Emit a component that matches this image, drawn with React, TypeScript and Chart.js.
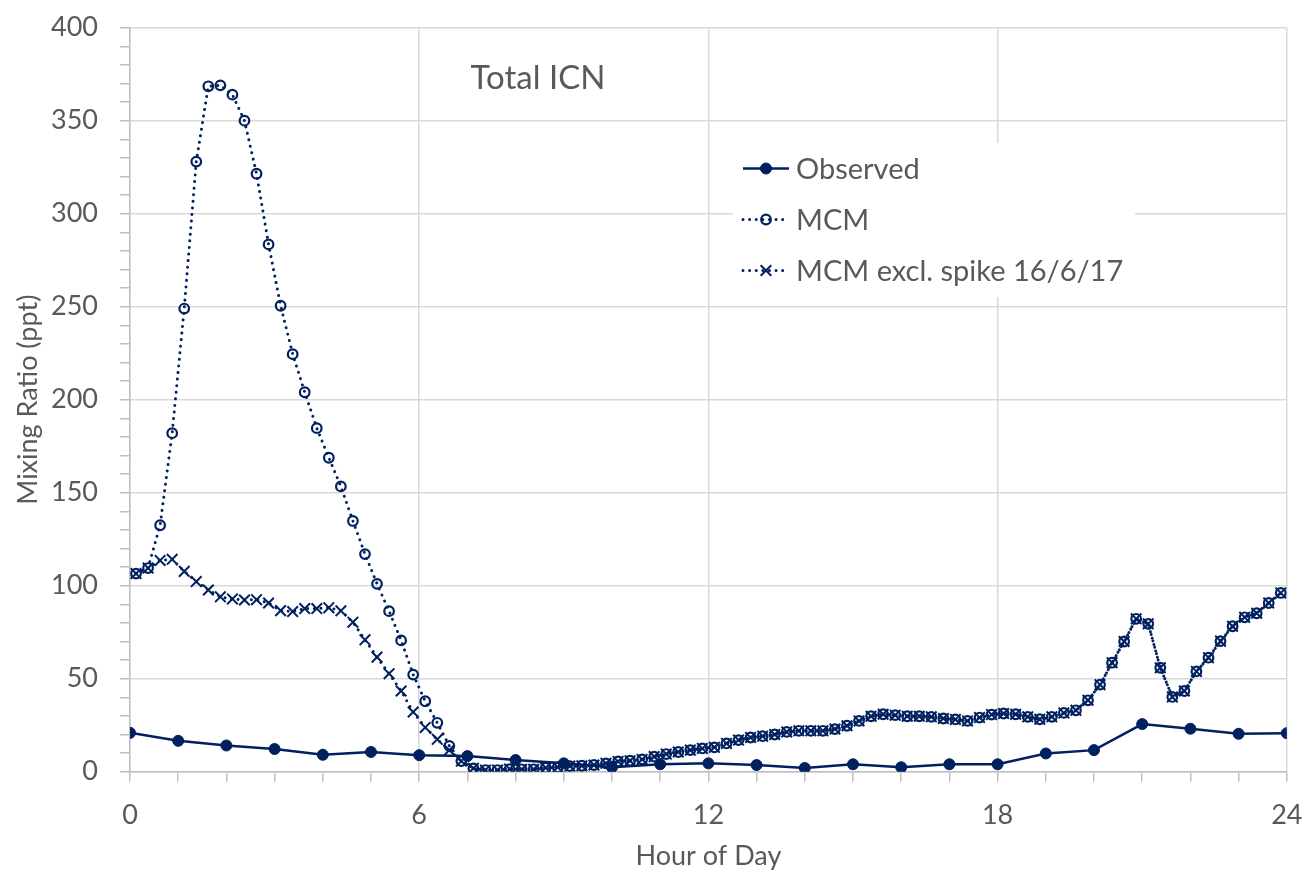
import React, { useEffect, useRef } from 'react';
import { Chart, registerables } from 'chart.js';

Chart.register(...registerables);

// ---------------- data ----------------
const chartTitle = 'Total ICN';
const xAxisTitle = 'Hour of Day';
const yAxisTitle = 'Mixing Ratio (ppt)';
const seriesNames = ['Observed', 'MCM', 'MCM excl. spike 16/6/17'];

const xLabelHours = [0, 6, 12, 18, 24];
const yLabelValues = [0, 50, 100, 150, 200, 250, 300, 350, 400];

const observedHours = [0, 1, 2, 3, 4, 5, 6, 7, 8, 9, 10, 11, 12, 13, 14, 15, 16, 17, 18, 19, 20, 21, 22, 23, 24];
const observedValues = [20.9, 16.6, 14.1, 12.2, 9.1, 10.6, 8.9, 8.4, 6.3, 4.5, 2.4, 4.0, 4.5, 3.6, 2.0, 4.0, 2.4, 4.0, 4.0, 9.8, 11.6, 25.6, 23.1, 20.4, 20.7];

const mcmHours = [
  0.125, 0.375, 0.625, 0.875, 1.125, 1.375, 1.625, 1.875, 2.125, 2.375, 2.625, 2.875,
  3.125, 3.375, 3.625, 3.875, 4.125, 4.375, 4.625, 4.875, 5.125, 5.375, 5.625, 5.875,
  6.125, 6.375, 6.625, 6.875, 7.125, 7.375, 7.625, 7.875, 8.125, 8.375, 8.625, 8.875,
  9.125, 9.375, 9.625, 9.875, 10.125, 10.375, 10.625, 10.875, 11.125, 11.375, 11.625, 11.875,
  12.125, 12.375, 12.625, 12.875, 13.125, 13.375, 13.625, 13.875, 14.125, 14.375, 14.625, 14.875,
  15.125, 15.375, 15.625, 15.875, 16.125, 16.375, 16.625, 16.875, 17.125, 17.375, 17.625, 17.875,
  18.125, 18.375, 18.625, 18.875, 19.125, 19.375, 19.625, 19.875, 20.125, 20.375, 20.625, 20.875,
  21.125, 21.375, 21.625, 21.875, 22.125, 22.375, 22.625, 22.875, 23.125, 23.375, 23.625, 23.875,
];
const mcmValues = [
  106.5, 109.5, 132.5, 182, 249, 328, 368.5, 369, 364, 350, 321.5, 283.5,
  250.5, 224.5, 204, 184.7, 168.8, 153.4, 134.8, 117, 101, 86.3, 70.6, 52.2,
  37.9, 26.3, 13.9, 5.7, 1.8, 0.9, 0.9, 1.4, 1.3, 1.3, 2.1, 2.4,
  3.0, 3.2, 3.6, 4.5, 5.5, 5.9, 6.6, 8.1, 9.5, 10.6, 11.6, 12.5,
  13.1, 15.2, 17.0, 18.4, 19.1, 20.0, 21.4, 22.0, 22.0, 22.0, 22.9, 24.7,
  27.3, 29.8, 30.9, 30.4, 29.8, 29.8, 29.5, 28.6, 28.1, 27.3, 29.1, 30.7,
  31.3, 30.9, 29.5, 28.2, 29.5, 31.6, 33.0, 38.4, 46.8, 58.6, 70.0, 82.2,
  79.5, 55.9, 40.2, 43.4, 53.9, 61.3, 70.2, 78.2, 83.0, 85.2, 90.7, 96.1,
];
const mcmExclValues = [
  106.5, 109.5, 113.6, 114.2, 107.7, 102.2, 97.7, 94.0, 92.9, 92.3, 92.5, 90.7,
  86.6, 86.1, 87.7, 87.7, 88.2, 86.5, 80.4, 70.9, 61.6, 52.7, 43.4, 32.1,
  23.8, 17.4, 11.6, 5.7, 1.8, 0.9, 0.9, 1.4, 1.3, 1.3, 2.1, 2.4,
  3.0, 3.2, 3.6, 4.5, 5.5, 5.9, 6.6, 8.1, 9.5, 10.6, 11.6, 12.5,
  13.1, 15.2, 17.0, 18.4, 19.1, 20.0, 21.4, 22.0, 22.0, 22.0, 22.9, 24.7,
  27.3, 29.8, 30.9, 30.4, 29.8, 29.8, 29.5, 28.6, 28.1, 27.3, 29.1, 30.7,
  31.3, 30.9, 29.5, 28.2, 29.5, 31.6, 33.0, 38.4, 46.8, 58.6, 70.0, 82.2,
  79.5, 55.9, 40.2, 43.4, 53.9, 61.3, 70.2, 78.2, 83.0, 85.2, 90.7, 96.1,
];

// ---------------- style ----------------
const NAVY = '#002060';
const TEXT = '#595959';
const GRID = '#d9d9d9';
const AXIS = '#bfbfbf';
const FONT = 'Lato, "Open Sans", sans-serif';

function drawMarker(ctx: CanvasRenderingContext2D, ds: any, x: number, y: number) {
  const r = ds.pointRadius;
  ctx.save();
  ctx.setLineDash([]);
  ctx.lineCap = 'butt';
  ctx.lineWidth = ds.pointBorderWidth;
  ctx.strokeStyle = ds.pointBorderColor;
  ctx.fillStyle = ds.pointBackgroundColor;
  ctx.beginPath();
  if (ds.pointStyle === 'crossRot') {
    const d = Math.cos(Math.PI / 4) * r;
    ctx.moveTo(x - d, y - d);
    ctx.lineTo(x + d, y + d);
    ctx.moveTo(x - d, y + d);
    ctx.lineTo(x + d, y - d);
    ctx.stroke();
  } else {
    ctx.arc(x, y, r, 0, Math.PI * 2);
    ctx.fill();
    ctx.stroke();
  }
  ctx.restore();
}

const overlayPlugin = {
  id: 'overlay',
  beforeDatasetsDraw(chart: any) {
    const ctx: CanvasRenderingContext2D = chart.ctx;
    ctx.save();
    // title inside plot
    ctx.fillStyle = TEXT;
    ctx.font = `33px ${FONT}`;
    ctx.textAlign = 'center';
    ctx.textBaseline = 'middle';
    ctx.fillText(chartTitle, 538, 78);

    // legend box
    ctx.fillStyle = '#ffffff';
    ctx.fillRect(733, 143, 402, 154);
    const dsList = chart.data.datasets;
    dsList.forEach((ds: any, i: number) => {
      const y = 168.5 + i * 51;
      ctx.save();
      ctx.strokeStyle = ds.borderColor;
      ctx.lineWidth = ds.borderWidth;
      ctx.setLineDash(ds.borderDash || []);
      ctx.lineCap = ds.borderCapStyle || 'butt';
      ctx.beginPath();
      ctx.moveTo(743, y);
      ctx.lineTo(789, y);
      ctx.stroke();
      ctx.restore();
      drawMarker(ctx, ds, 766, y);
      ctx.fillStyle = TEXT;
      ctx.font = `29px ${FONT}`;
      ctx.textAlign = 'left';
      ctx.textBaseline = 'middle';
      ctx.fillText(ds.label, 796, y + 1);
    });
    ctx.restore();
  },
};

export default function App() {
  const canvasRef = useRef<HTMLCanvasElement | null>(null);

  useEffect(() => {
    if (!canvasRef.current) return;
    const chart = new Chart(canvasRef.current, {
      type: 'line',
      data: {
        datasets: [
          {
            label: seriesNames[0],
            data: observedHours.map((h, i) => ({ x: h, y: observedValues[i] })),
            borderColor: NAVY,
            borderWidth: 2.5,
            pointStyle: 'circle',
            pointRadius: 5.5,
            pointBorderWidth: 1,
            pointBackgroundColor: NAVY,
            pointBorderColor: NAVY,
            order: 0,
          },
          {
            label: seriesNames[1],
            data: mcmHours.map((h, i) => ({ x: h, y: mcmValues[i] })),
            borderColor: NAVY,
            borderWidth: 3,
            borderDash: [0.01, 6.6],
            borderCapStyle: 'round',
            pointStyle: 'circle',
            pointRadius: 4.8,
            pointBorderWidth: 2.2,
            pointBackgroundColor: 'rgba(0,0,0,0)',
            pointBorderColor: NAVY,
            order: 2,
          },
          {
            label: seriesNames[2],
            data: mcmHours.map((h, i) => ({ x: h, y: mcmExclValues[i] })),
            borderColor: NAVY,
            borderWidth: 3,
            borderDash: [0.01, 6.6],
            borderCapStyle: 'round',
            pointStyle: 'crossRot',
            pointRadius: 7.5,
            pointBorderWidth: 2,
            pointBackgroundColor: 'rgba(0,0,0,0)',
            pointBorderColor: NAVY,
            order: 1,
          },
        ] as any,
      },
      options: {
        animation: false,
        responsive: false,
        devicePixelRatio: 1,
        events: [],
        layout: { padding: { left: 0, right: 21.2, top: 27.7, bottom: 0 } },
        plugins: {
          legend: { display: false },
          tooltip: { enabled: false },
          title: { display: false },
        },
        elements: { line: { tension: 0 } },
        scales: {
          x: {
            type: 'linear',
            min: 0,
            max: 24,
            afterFit: (s: any) => {
              s.height = 100.3;
              s.paddingLeft = 0;
              s.paddingRight = 0;
            },
            ticks: {
              stepSize: 1,
              autoSkip: false,
              maxRotation: 0,
              minRotation: 0,
              padding: 17,
              color: TEXT,
              font: { family: FONT, size: 27 },
              callback: (v: any) => (xLabelHours.includes(Number(v)) ? String(v) : ''),
            },
            grid: {
              color: (c: any) => (c.tick && xLabelHours.includes(c.tick.value) ? GRID : 'rgba(0,0,0,0)'),
              tickColor: AXIS,
              tickLength: 10,
              lineWidth: 1.5,
              tickWidth: 1.5,
            },
            border: { color: AXIS, width: 1.5 },
            title: {
              display: true,
              text: xAxisTitle,
              color: TEXT,
              font: { family: FONT, size: 27 },
              padding: { top: 0, bottom: 0 },
            },
          },
          y: {
            type: 'linear',
            min: 0,
            max: 400,
            afterFit: (s: any) => {
              s.width = 130;
              s.paddingTop = 0;
              s.paddingBottom = 0;
            },
            ticks: {
              stepSize: 10,
              autoSkip: false,
              padding: 22,
              color: TEXT,
              font: { family: FONT, size: 27 },
              callback: (v: any) => (yLabelValues.includes(Number(v)) ? String(v) : ''),
            },
            grid: {
              color: (c: any) => (c.tick && yLabelValues.includes(c.tick.value) ? GRID : 'rgba(0,0,0,0)'),
              tickColor: AXIS,
              tickLength: 10,
              lineWidth: 1.5,
              tickWidth: 1.5,
            },
            border: { color: AXIS, width: 1.5 },
            title: {
              display: true,
              text: yAxisTitle,
              color: TEXT,
              font: { family: FONT, size: 27 },
              padding: { top: 12, bottom: 0 },
            },
          },
        },
      } as any,
      plugins: [overlayPlugin],
    });
    return () => chart.destroy();
  }, []);

  return (
    <div style={{ position: 'absolute', left: 0, top: 0, width: 1308, height: 872, background: '#ffffff' }}>
      <canvas ref={canvasRef} width={1308} height={872} style={{ width: 1308, height: 872, display: 'block' }} />
    </div>
  );
}
